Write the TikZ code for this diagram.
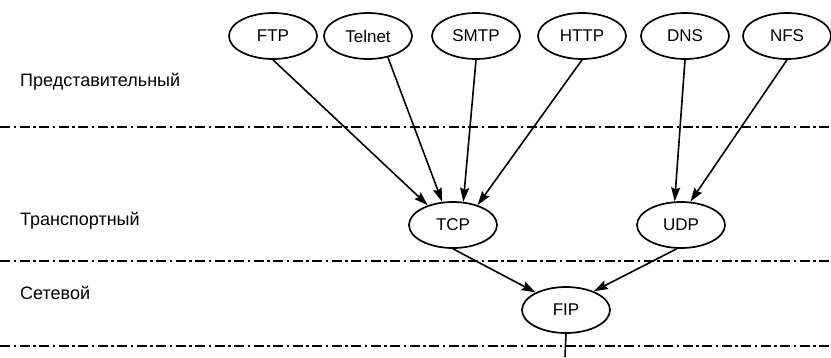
\documentclass[tikz,border=0pt]{standalone}
\usepackage{fontspec}
\setmainfont{Liberation Sans}
\usetikzlibrary{shapes.geometric,arrows.meta}

\tikzset{
  proto/.style={ellipse,draw,line width=1.7pt,minimum width=88pt,minimum height=46pt,
    inner sep=0pt,font=\fontsize{17}{19}\selectfont},
  layer/.style={anchor=west,inner sep=0pt,font=\fontsize{18}{20}\selectfont},
  sepline/.style={line width=1.7pt,dash pattern=on 10pt off 3.5pt on 2.5pt off 3.5pt},
  conn/.style={line width=1.6pt,-{Stealth[length=14pt,width=9pt,inset=2pt]}}
}

\begin{document}
\begin{tikzpicture}[x=1pt,y=-1pt,line cap=butt,line join=round]
  \path[use as bounding box] (0,0) rectangle (831,357);

  % layer separators
  \draw[sepline] (0,127) -- (831,127);
  \draw[sepline] (0,261) -- (831,261);
  \draw[sepline] (0,346) -- (831,346);

  % layer names
  \node[layer] (pres) at (20,82) {Представительный};
  \node[layer] (trans) at (20,221) {Транспортный};
  \node[layer] (net) at (20,293) {Сетевой};

  % application protocols
  \node[proto] (ftp) at (273,36) {FTP};
  \node[proto] (telnet) at (368,36) {Telnet};
  \node[proto] (smtp) at (476,36) {SMTP};
  \node[proto] (http) at (582,36) {HTTP};
  \node[proto] (dns) at (685,36) {DNS};
  \node[proto] (nfs) at (787,36) {NFS};

  % transport and network
  \node[proto] (tcp) at (453,225) {TCP};
  \node[proto] (udp) at (681,225) {UDP};
  \node[proto] (fip) at (566,310) {FIP};
  \coordinate (down) at (565,357);

  \draw[conn] (ftp.south) -- (tcp.142);
  \draw[conn] (telnet.-47) -- (tcp.115);
  \draw[conn] (smtp.south) -- (tcp.66);
  \draw[conn] (http.south) -- (tcp.39);
  \draw[conn] (dns.south) -- (udp.105);
  \draw[conn] (nfs.south) -- (udp.68);
  \draw[conn] (tcp.south) -- (fip.150);
  \draw[conn] (udp.-100) -- (fip.34);
  \draw[line width=1.6pt] (fip.south) -- (down);
\end{tikzpicture}
\end{document}
